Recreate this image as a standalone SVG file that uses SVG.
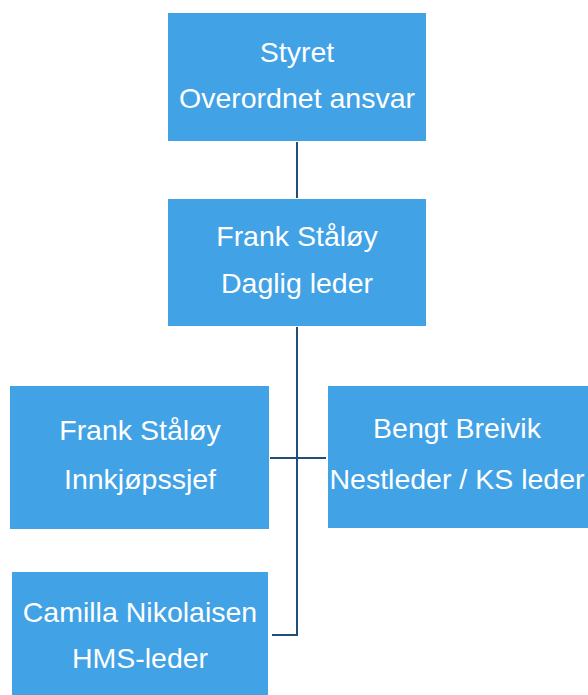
<svg xmlns="http://www.w3.org/2000/svg" width="588" height="695" viewBox="0 0 588 695">
<style>
.box{fill:#41a2e6}
.t{font-family:"Liberation Sans",Arial,sans-serif;font-size:28.5px;fill:#ffffff;text-anchor:middle}
.c{stroke:#1f4e79;stroke-width:2;fill:none}
</style>
<rect width="588" height="695" fill="#ffffff"/>
<g id="connectors">
<line class="c" x1="297" y1="142" x2="297" y2="198"/>
<polyline class="c" points="297,327 297,635 272,635"/>
<line class="c" x1="270" y1="458" x2="326" y2="458"/>
</g>
<g id="styret">
<rect class="box" x="168" y="13" width="258" height="128"/>
<text class="t" x="297" y="62">Styret</text>
<text class="t" x="297" y="108">Overordnet ansvar</text>
</g>
<g id="daglig">
<rect class="box" x="168" y="199" width="258" height="127"/>
<text class="t" x="297" y="246">Frank Ståløy</text>
<text class="t" x="297" y="293">Daglig leder</text>
</g>
<g id="innkjop">
<rect class="box" x="10" y="386" width="259" height="143"/>
<text class="t" x="140" y="440">Frank Ståløy</text>
<text class="t" x="140" y="489">Innkjøpssjef</text>
</g>
<g id="nestleder">
<rect class="box" x="328" y="386" width="260" height="142"/>
<text class="t" x="457" y="438">Bengt Breivik</text>
<text class="t" x="457" y="489">Nestleder / KS leder</text>
</g>
<g id="hms">
<rect class="box" x="12" y="572" width="256" height="123"/>
<text class="t" x="140" y="622">Camilla Nikolaisen</text>
<text class="t" x="140" y="668">HMS-leder</text>
</g>
</svg>
